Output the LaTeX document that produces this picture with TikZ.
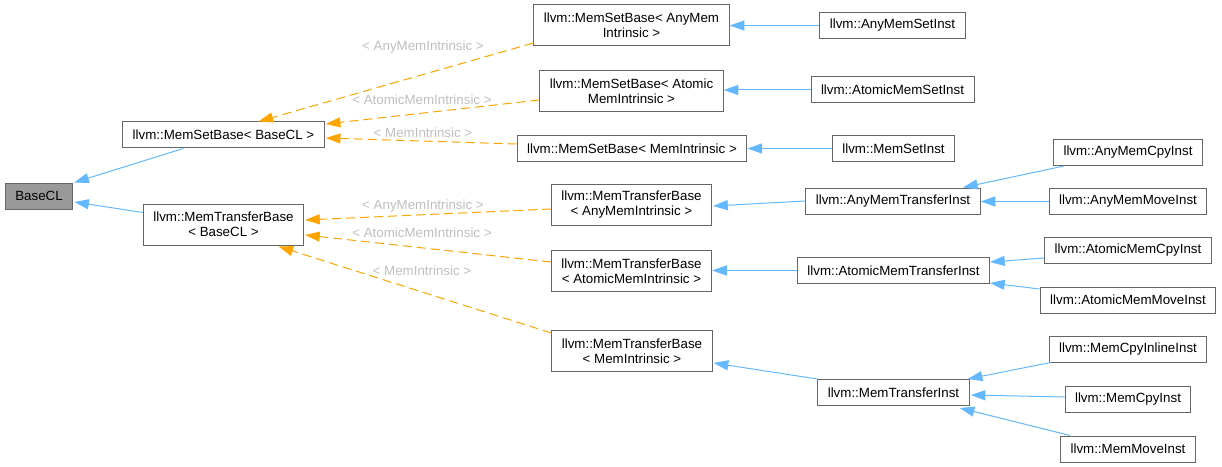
\documentclass[tikz,border=0pt]{standalone}
\usepackage{fontspec}
\setmainfont{Liberation Sans}
\usepackage{tikz}
\usetikzlibrary{arrows.meta, calc}

\definecolor{edgeblue}{HTML}{63B8FF}
\definecolor{edgeorange}{HTML}{FFA500}
\definecolor{boxgray}{HTML}{666666}
\definecolor{basefill}{HTML}{999999}
\definecolor{labelgray}{HTML}{BEBEBE}

\begin{document}
\begin{tikzpicture}[x=0.75pt, y=-0.75pt,
  every node/.style={font=\fontsize{10pt}{11.25pt}\selectfont},
  cls/.style={draw=boxgray, line width=0.75pt, fill=white, inner xsep=7.5pt, inner ysep=2pt, minimum height=19.5pt, align=center},
  cls2/.style={cls, minimum height=30.75pt},
  inh/.style={draw=edgeblue, line width=0.75pt, -{Triangle[length=11pt, width=7.5pt]}},
  tmpl/.style={draw=edgeorange, line width=0.75pt, dash pattern=on 6.75pt off 3.75pt, -{Triangle[length=11pt, width=7.5pt]}},
  tlabel/.style={text=labelgray, inner sep=0pt}]
  \useasboundingbox (0,0) rectangle (1222,467);
  % classes, left to right
  \node[cls, fill=basefill] (base) at (39,196) {BaseCL};
  \node[cls] (msbBase) at (223.5,135) {llvm::MemSetBase< BaseCL >};
  \node[cls2] (mtbBase) at (223.5,224.5) {llvm::MemTransferBase\\< BaseCL >};
  \node[cls2] (msbAny) at (631.5,25.5) {llvm::MemSetBase< AnyMem\\Intrinsic >};
  \node[cls2] (msbAtomic) at (631.5,91) {llvm::MemSetBase< Atomic\\MemIntrinsic >};
  \node[cls] (msbMem) at (632,148.5) {llvm::MemSetBase< MemIntrinsic >};
  \node[cls2] (mtbAny) at (631.5,204.5) {llvm::MemTransferBase\\< AnyMemIntrinsic >};
  \node[cls2] (mtbAtomic) at (631.5,271) {llvm::MemTransferBase\\< AtomicMemIntrinsic >};
  \node[cls2] (mtbMem) at (632,351) {llvm::MemTransferBase\\< MemIntrinsic >};
  \node[cls] (anySet) at (892.5,25.5) {llvm::AnyMemSetInst};
  \node[cls] (atomicSet) at (892.5,90) {llvm::AtomicMemSetInst};
  \node[cls] (memSet) at (893.5,148.5) {llvm::MemSetInst};
  \node[cls] (anyTransfer) at (893,201) {llvm::AnyMemTransferInst};
  \node[cls] (atomicTransfer) at (893.5,270.5) {llvm::AtomicMemTransferInst};
  \node[cls] (memTransfer) at (893.5,392.5) {llvm::MemTransferInst};
  \node[cls] (anyCpy) at (1128,152.5) {llvm::AnyMemCpyInst};
  \node[cls] (anyMove) at (1128,201.5) {llvm::AnyMemMoveInst};
  \node[cls] (atomicCpy) at (1128,250.5) {llvm::AtomicMemCpyInst};
  \node[cls] (atomicMove) at (1128,300) {llvm::AtomicMemMoveInst};
  \node[cls] (cpyInline) at (1128,349) {llvm::MemCpyInlineInst};
  \node[cls] (memCpy) at (1128,399) {llvm::MemCpyInst};
  \node[cls] (memMove) at (1128,449) {llvm::MemMoveInst};
  % inheritance
  \draw[inh] ($(msbBase.south west)+(61,0)$) -- ($(base.north east)+(1,0)$);
  \draw[inh] ($(mtbBase.west)+(0,-12)$) -- ($(base.east)+(1,6)$);
  \draw[inh] (anySet.west) -- (msbAny.east |- anySet.west);
  \draw[inh] (atomicSet.west) -- (msbAtomic.east |- atomicSet.west);
  \draw[inh] (memSet.west) -- (msbMem.east);
  \draw[inh] (anyTransfer.west) -- ($(mtbAny.east)+(1,1.5)$);
  \draw[inh] (atomicTransfer.west) -- (mtbAtomic.east |- atomicTransfer.west);
  \draw[inh] (memTransfer.north west) -- ($(mtbMem.east)+(1,12)$);
  \draw[inh] ($(anyCpy.south west)+(11,0)$) -- ($(anyTransfer.north)+(70,0)$);
  \draw[inh] (anyMove.west) -- (anyTransfer.east |- anyMove.west);
  \draw[inh] ($(atomicCpy.west)+(0,7.5)$) -- ($(atomicTransfer.east)+(0,-8.5)$);
  \draw[inh] ($(atomicMove.west)+(0,-11)$) -- ($(atomicTransfer.east)+(0,12.5)$);
  \draw[inh] ($(cpyInline.south west)+(2,0)$) -- ($(memTransfer.north east)+(-2,0)$);
  \draw[inh] ($(memCpy.west)+(0,-2)$) -- ($(memTransfer.east)+(1,2.5)$);
  \draw[inh] ($(memMove.north west)+(10,0)$) -- ($(memTransfer.south east)+(-10,2)$);
  % template instances
  \draw[tmpl] ($(msbAny.west)+(0,17.5)$) -- ($(msbBase.north)+(35,0)$);
  \draw[tmpl] ($(msbAtomic.west)+(0,9)$) -- ($(msbBase.east)+(1,-11)$);
  \draw[tmpl] ($(msbMem.west)+(0,-4.5)$) -- ($(msbBase.east)+(1,3)$);
  \draw[tmpl] ($(mtbAny.west)+(0,4.5)$) -- ($(mtbBase.east)+(1,-4.5)$);
  \draw[tmpl] ($(mtbAtomic.west)+(0,-9)$) -- ($(mtbBase.east)+(1,10.5)$);
  \draw[tmpl] ($(mtbMem.west)+(0,-18)$) -- ($(mtbBase.south)+(55,1)$);
  \node[tlabel] (lblMsbAny) at (423,47) {< AnyMemIntrinsic >};
  \node[tlabel] (lblMsbAtomic) at (422,99.5) {< AtomicMemIntrinsic >};
  \node[tlabel] (lblMsbMem) at (423,133) {< MemIntrinsic >};
  \node[tlabel] (lblMtbAny) at (423,206) {< AnyMemIntrinsic >};
  \node[tlabel] (lblMtbAtomic) at (422,233) {< AtomicMemIntrinsic >};
  \node[tlabel] (lblMtbMem) at (422,271) {< MemIntrinsic >};
\end{tikzpicture}
\end{document}
